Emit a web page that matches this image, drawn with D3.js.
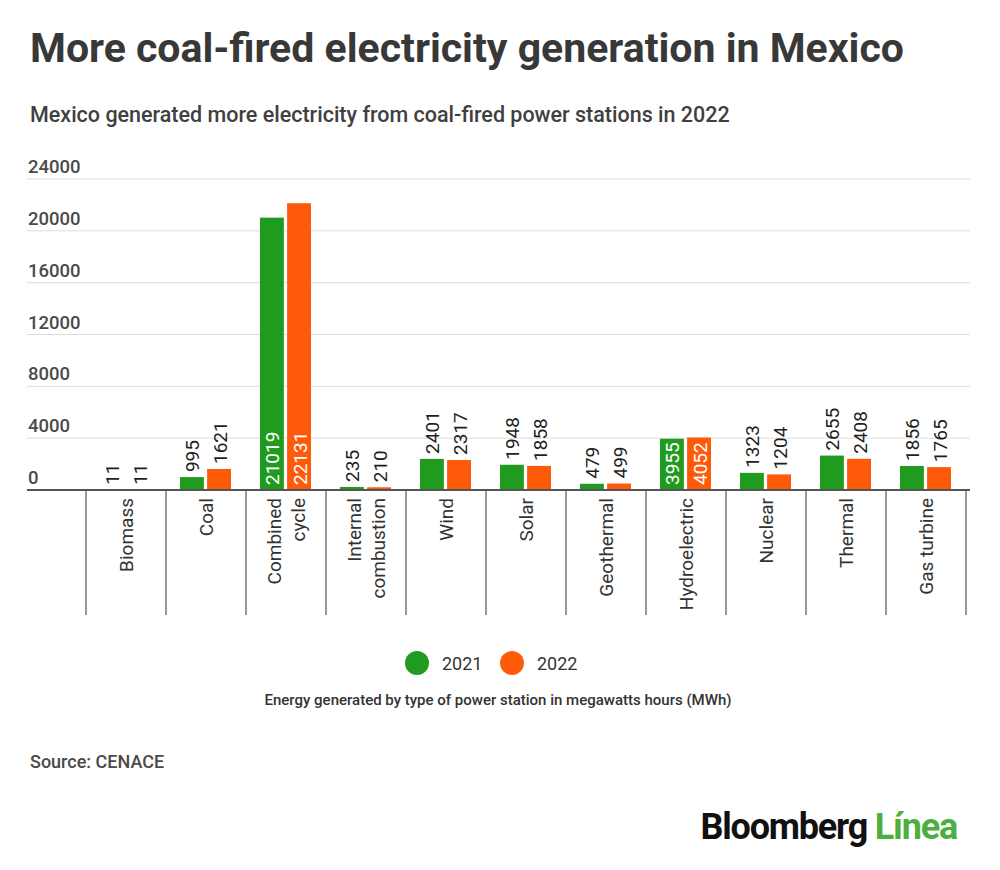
<!DOCTYPE html>
<html>
<head>
<meta charset="utf-8">
<script src="https://cdn.jsdelivr.net/npm/d3@7"></script>
<style>
  body { margin: 0; background: #fff; }
  text { font-family: Roboto, "Noto Sans", sans-serif; }
</style>
</head>
<body>
<svg width="1000" height="870"></svg>
<script>
// data
const categories = [
  ["Biomass"], ["Coal"], ["Combined", "cycle"], ["Internal", "combustion"],
  ["Wind"], ["Solar"], ["Geothermal"], ["Hydroelectric"], ["Nuclear"],
  ["Thermal"], ["Gas turbine"]
];
const years = ["2021", "2022"];
const values2021 = [11, 995, 21019, 235, 2401, 1948, 479, 3955, 1323, 2655, 1856];
const values2022 = [11, 1621, 22131, 210, 2317, 1858, 499, 4052, 1204, 2408, 1765];
const yTicks = [0, 4000, 8000, 12000, 16000, 20000, 24000];
const colors = ["#219b1f", "#ff5a0a"];

const svg = d3.select("svg");
const catKeys = categories.map((c) => c.join(" "));

const x0 = d3.scaleBand().domain(catKeys).range([86, 966]).paddingInner(0);
const x1 = d3.scaleBand().domain(years).range([14, 65]).paddingInner(0.12);
const y = d3.scaleLinear().domain([0, 24000]).range([490, 179]);

// title + subtitle
svg.append("text")
  .attr("x", 30).attr("y", 62)
  .attr("font-size", 41).attr("font-weight", 700).attr("fill", "#383838")
  .text("More coal-fired electricity generation in Mexico");

svg.append("text")
  .attr("x", 30).attr("y", 122)
  .attr("font-size", 21.5).attr("font-weight", 500).attr("fill", "#404040")
  .text("Mexico generated more electricity from coal-fired power stations in 2022");

// gridlines + y labels
const grid = svg.append("g");
grid.selectAll("line")
  .data(yTicks.slice(1))
  .enter()
  .append("line")
  .attr("x1", 27).attr("x2", 970)
  .attr("y1", (d) => y(d)).attr("y2", (d) => y(d))
  .attr("stroke", "#dcdcdc").attr("stroke-width", 1);

grid.selectAll("text")
  .data(yTicks)
  .enter()
  .append("text")
  .attr("x", 28).attr("y", (d) => y(d) - 6)
  .attr("font-size", 18.5).attr("font-weight", 500).attr("fill", "#4a4a4a")
  .text((d) => d);

// bars
const rows = catKeys.map((k, i) => ({ key: k, vals: [values2021[i], values2022[i]] }));

const groups = svg.selectAll("g.cat")
  .data(rows)
  .enter()
  .append("g")
  .attr("class", "cat")
  .attr("transform", (d) => `translate(${x0(d.key)},0)`);

const bars = groups.selectAll("g.bar")
  .data((d) => d.vals.map((v, j) => ({ year: years[j], v: v, j: j })))
  .enter()
  .append("g")
  .attr("class", "bar");

bars.append("rect")
  .attr("x", (d) => x1(d.year))
  .attr("width", x1.bandwidth())
  .attr("y", (d) => y(d.v))
  .attr("height", (d) => y(0) - y(d.v))
  .attr("fill", (d) => colors[d.j]);

// value labels, inside the bar when it fits
bars.append("text")
  .attr("font-size", 19).attr("font-weight", 400)
  .attr("transform", (d) => `translate(${x1(d.year) + x1.bandwidth() / 2 + 7.5},0) rotate(-90)`)
  .text((d) => d.v)
  .each(function (d) {
    const len = this.getComputedTextLength();
    const h = y(0) - y(d.v);
    const t = d3.select(this);
    if (h > len + 6) {
      t.attr("x", -(y(0) - 5)).attr("text-anchor", "start").attr("fill", "#fff");
    } else {
      t.attr("x", -(y(d.v) - 5)).attr("text-anchor", "start").attr("fill", "#1e1e1e");
    }
  });

// axis line + separators
svg.append("line")
  .attr("x1", 27).attr("x2", 970)
  .attr("y1", y(0)).attr("y2", y(0))
  .attr("stroke", "#555").attr("stroke-width", 2);

const seps = catKeys.map((k) => x0(k)).concat([x0.range()[1]]);
svg.selectAll("line.sep")
  .data(seps)
  .enter()
  .append("line")
  .attr("class", "sep")
  .attr("x1", (d) => d).attr("x2", (d) => d)
  .attr("y1", y(0)).attr("y2", 615)
  .attr("stroke", "#555").attr("stroke-width", 1.2);

// category labels
categories.forEach((lines, i) => {
  const cx = x0(catKeys[i]) + x0.bandwidth() / 2;
  const n = lines.length;
  lines.forEach((ln, k) => {
    const off = (k - (n - 1) / 2) * 24 + 7;
    svg.append("text")
      .attr("transform", `translate(${cx + off},0) rotate(-90)`)
      .attr("x", -498)
      .attr("text-anchor", "end")
      .attr("font-size", 19).attr("font-weight", 400).attr("fill", "#333")
      .text(ln);
  });
});

// legend
const legend = svg.append("g").attr("transform", "translate(417,663)");
const legPos = [0, 95];
years.forEach((yr, j) => {
  legend.append("circle").attr("cx", legPos[j]).attr("cy", 0).attr("r", 12).attr("fill", colors[j]);
  legend.append("text")
    .attr("x", legPos[j] + 25).attr("y", 6.5)
    .attr("font-size", 18).attr("font-weight", 400).attr("fill", "#333")
    .text(yr);
});

svg.append("text")
  .attr("x", 498).attr("y", 705)
  .attr("text-anchor", "middle")
  .attr("font-size", 15).attr("font-weight", 500).attr("fill", "#333")
  .text("Energy generated by type of power station in megawatts hours (MWh)");

svg.append("text")
  .attr("x", 30).attr("y", 768)
  .attr("font-size", 18).attr("font-weight", 500).attr("fill", "#4a4a4a")
  .text("Source: CENACE");

// logo
const logo = svg.append("text")
  .attr("x", 957).attr("y", 839)
  .attr("text-anchor", "end")
  .attr("font-family", "'Liberation Sans', Arial, sans-serif")
  .attr("font-size", 36).attr("font-weight", 700)
  .attr("letter-spacing", -1.2);
logo.append("tspan").attr("fill", "#111").text("Bloomberg ");
logo.append("tspan").attr("fill", "#4caf3f").text("Línea");
</script>
</body>
</html>
